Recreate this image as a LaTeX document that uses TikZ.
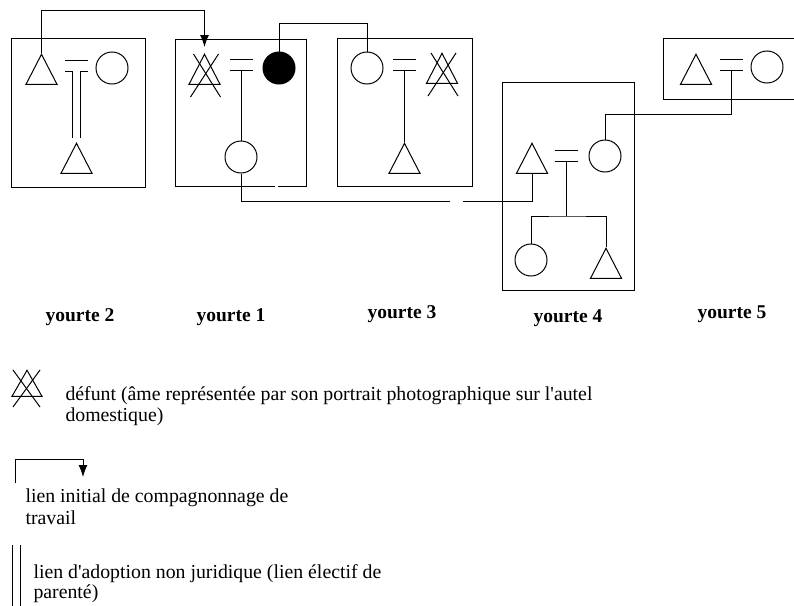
\documentclass[tikz,border=0pt]{standalone}
\usepackage{fontspec}
\setmainfont{Liberation Serif}
\usetikzlibrary{shapes.geometric,arrows.meta,calc}
\begin{document}
\begin{tikzpicture}[x=1pt,y=-1pt,line width=1pt,
  tri/.style={draw,isosceles triangle,shape border rotate=90,isosceles triangle stretches,
    minimum width=31pt,minimum height=30pt,inner sep=0pt,anchor=north},
  circ/.style={draw,circle,minimum size=32pt,inner sep=0pt},
  fcirc/.style={circ,fill=black},
  marr/.style={minimum width=22pt,minimum height=10pt,inner sep=0pt},
  arr/.style={-{Latex[length=12pt,width=9pt]}},
  dbl/.style={double,double distance=6.5pt},
  lab/.style={font=\fontsize{19.5}{22}\selectfont\bfseries,inner sep=0pt,anchor=base},
  legtxt/.style={font=\fontsize{19.8}{22}\selectfont,inner sep=0pt,anchor=base west}]
\fill[white] (0,0) rectangle (794,605);
\useasboundingbox (0,0) rectangle (794,605);

% routing levels
\coordinate (r1) at (0,10);
\coordinate (r2) at (0,23);
\coordinate (r3) at (0,114);
\coordinate (r4) at (0,201);
\coordinate (r5) at (0,216);

% boxes
\draw (11,38) rectangle (145,187);
\draw (275,186) -- (175,186) -- (175,39) -- (306,39) -- (306,186) -- (278,186);
\draw (337,38) rectangle (472,186);
\draw (502,82) rectangle (634,290);
\draw (800,38) -- (663,38) -- (663,99) -- (800,99);

% yourte 2
\node[tri] (a2) at (41.5,53) {};
\node[marr] (e2) at (76.5,65.5) {};
\node[circ] (b2) at (112,68) {};
\node[tri] (c2) at (76.5,142) {};

% yourte 1
\node[tri] (d1) at (204.5,53) {};
\node[marr] (e1) at (241,65) {};
\node[fcirc] (f1) at (279,68) {};
\node[circ] (g1) at (241,157) {};

% yourte 3
\node[circ] (c3) at (367,68) {};
\node[marr] (e3) at (404.5,65) {};
\node[tri] (d3) at (442,52) {};
\node[tri] (t3) at (404.5,142) {};

% yourte 4
\node[tri] (t4) at (532,142) {};
\node[marr] (e4) at (566,155.5) {};
\node[circ] (c4) at (605,156) {};
\node[circ] (k4) at (531,260) {};
\node[tri] (s4) at (606,247) {};

% yourte 5
\node[tri] (t5) at (696,53) {};
\node[marr] (e5) at (731,64.5) {};
\node[circ] (c5) at (767,67) {};

% equals signs
\foreach \m in {e2,e1,e3,e4,e5}{
  \draw (\m.north west) -- (\m.north east) (\m.south west) -- (\m.south east);
}

% crosses on deceased
\foreach \d in {d1,d3}{
  \draw ($(\d.north)+(-11,1)$) -- ($(\d.north)+(16,44)$);
  \draw ($(\d.north)+(14,1)$) -- ($(\d.north)+(-14,44)$);
}

% descent lines
\draw[dbl,shorten >=4pt] (e2.south) -- (c2.north);
\draw (e1.south) -- (g1.north);
\draw (e3.south) -- (t3.north);
\draw (e4.south) -- (e4.south |- r5);
\draw (k4.north) |- (e4.south |- r5) -| (s4.north);

% connectors
\draw[arr] (a2.north) -- (a2.north |- r1) -| ([yshift=6pt]d1.north);
\draw (f1.north) -- (f1.north |- r2) -| (c3.north);
\draw (e5.south) -- (e5.south |- r3) -| (c4.north);
\coordinate (gl) at (450,201);
\coordinate (gr) at (463,201);
\draw (g1.south) |- (gl);
\draw (gr) -| (t4.south);

% labels
\node[lab] (l2) at (80,321) {yourte 2};
\node[lab] (l1) at (231,321) {yourte 1};
\node[lab] (l3) at (402,318) {yourte 3};
\node[lab] (l4) at (568,322) {yourte 4};
\node[lab] (l5) at (732,318) {yourte 5};

% legend
\node[tri,minimum height=26pt,minimum width=30pt] (ld) at (27,369) {};
\draw ($(ld.north)+(-14,1)$) -- ($(ld.north)+(13,38)$);
\draw ($(ld.north)+(13,1)$) -- ($(ld.north)+(-14,38)$);
\node[legtxt] (lt1) at (65,400) {défunt (âme représentée par son portrait photographique sur l\textquotesingle autel};
\node[legtxt] (lt2) at (65,421) {domestique)};

\coordinate (la0) at (15,483);
\coordinate (la1) at (15,459);
\coordinate (la2) at (83,477);
\draw[arr] (la0) -- (la1) -| (la2);
\node[legtxt] (lt3) at (25,502) {lien initial de compagnonnage de};
\node[legtxt] (lt4) at (25,524) {travail};

\coordinate (lb0) at (16.5,545);
\coordinate (lb1) at (16.5,606);
\draw[dbl] (lb0) -- (lb1);
\node[legtxt] (lt5) at (33,578) {lien d\textquotesingle adoption non juridique (lien électif de};
\node[legtxt] (lt6) at (33,598) {parenté)};
\end{tikzpicture}
\end{document}
